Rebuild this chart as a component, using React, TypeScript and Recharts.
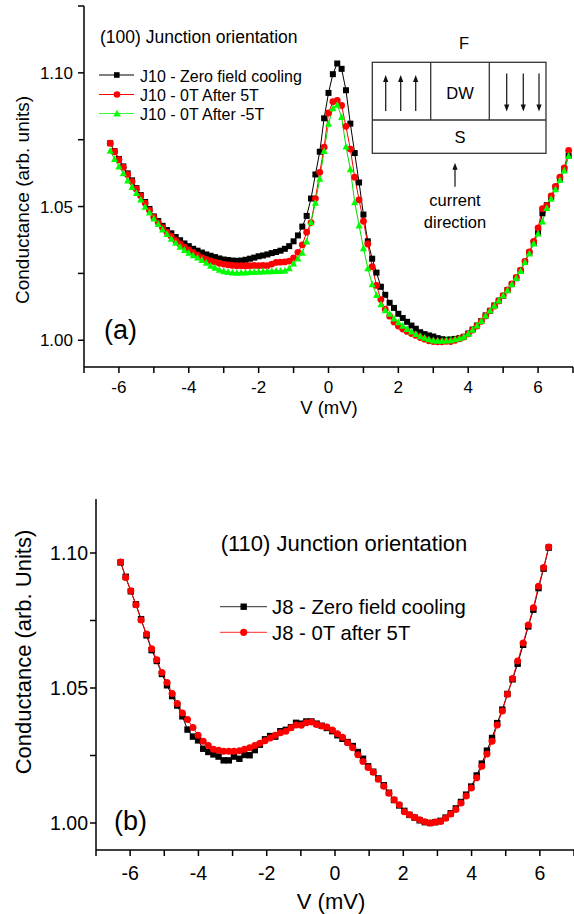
import React from "react";
import { LineChart, Line, XAxis, YAxis } from "recharts";

const FONT = '"Liberation Sans", Arial, Helvetica, sans-serif';

// ---- panel (a): (100) junction, bias in mV ----
const vTop = [
  -6.25, -6.125, -6, -5.875, -5.75, -5.625, -5.5, -5.375,
  -5.25, -5.125, -5, -4.875, -4.75, -4.625, -4.5, -4.375,
  -4.25, -4.125, -4, -3.875, -3.75, -3.625, -3.5, -3.375,
  -3.25, -3.125, -3, -2.875, -2.75, -2.625, -2.5, -2.375,
  -2.25, -2.125, -2, -1.875, -1.75, -1.625, -1.5, -1.375,
  -1.25, -1.125, -1, -0.875, -0.75, -0.625, -0.5, -0.375,
  -0.25, -0.125, 0, 0.125, 0.25, 0.375, 0.5, 0.625,
  0.75, 0.875, 1, 1.125, 1.25, 1.375, 1.5, 1.625,
  1.75, 1.875, 2, 2.125, 2.25, 2.375, 2.5, 2.625,
  2.75, 2.875, 3, 3.125, 3.25, 3.375, 3.5, 3.625,
  3.75, 3.875, 4, 4.125, 4.25, 4.375, 4.5, 4.625,
  4.75, 4.875, 5, 5.125, 5.25, 5.375, 5.5, 5.625,
  5.75, 5.875, 6, 6.125, 6.25, 6.375, 6.5, 6.625,
  6.75, 6.875,
];

const zfcTop = [
  1.0737, 1.0707, 1.0678, 1.065, 1.0624, 1.0598, 1.0569, 1.0543,
  1.0517, 1.0491, 1.0463, 1.0446, 1.0428, 1.0412, 1.04, 1.0386,
  1.0374, 1.0362, 1.0352, 1.0342, 1.0335, 1.0328, 1.0321, 1.0316,
  1.0311, 1.0306, 1.0302, 1.03, 1.0298, 1.0297, 1.0298, 1.0301,
  1.0305, 1.0309, 1.0314, 1.0317, 1.0321, 1.0326, 1.033, 1.0335,
  1.0342, 1.0352, 1.037, 1.0392, 1.0425, 1.0465, 1.053, 1.062,
  1.0705, 1.083, 1.0925, 1.0995, 1.1035, 1.1015, 1.0935, 1.081,
  1.07, 1.059, 1.047, 1.037, 1.0305, 1.0253, 1.02, 1.017,
  1.014, 1.0121, 1.0099, 1.0083, 1.0069, 1.0055, 1.0043, 1.003,
  1.0023, 1.0018, 1.0014, 1.0008, 1.0004, 1.0002, 1.0003, 1.0005,
  1.0008, 1.0013, 1.0025, 1.004, 1.0055, 1.0072, 1.0093, 1.011,
  1.013, 1.0148, 1.0166, 1.0188, 1.021, 1.0232, 1.026, 1.0293,
  1.0327, 1.0365, 1.0405, 1.0475, 1.0505, 1.0535, 1.0572, 1.0605,
  1.064, 1.069,
];

const after5Top = [
  1.0737, 1.0705, 1.0675, 1.0647, 1.062, 1.0594, 1.0566, 1.054,
  1.0513, 1.0486, 1.046, 1.044, 1.0421, 1.0404, 1.0388, 1.0373,
  1.036, 1.0348, 1.0338, 1.0329, 1.0318, 1.0309, 1.0302, 1.0297,
  1.0292, 1.0288, 1.0285, 1.0282, 1.028, 1.0279, 1.0279, 1.0278,
  1.0279, 1.028, 1.0279, 1.028, 1.0279, 1.0285, 1.0291, 1.0292,
  1.0293, 1.0296, 1.0308, 1.0329, 1.0357, 1.0404, 1.044, 1.053,
  1.0628, 1.0722, 1.085, 1.0892, 1.0897, 1.0878, 1.08, 1.0715,
  1.061, 1.0525, 1.0445, 1.036, 1.0275, 1.0205, 1.0152, 1.0116,
  1.009, 1.0068, 1.0053, 1.0042, 1.0033, 1.0025, 1.0018, 1.001,
  1.0004, 0.9998, 0.9995, 0.9994, 0.9994, 0.9996, 0.9995, 1.0,
  1.0006, 1.0012, 1.0024, 1.0038, 1.0053, 1.0071, 1.0091, 1.011,
  1.0128, 1.0147, 1.0167, 1.0188, 1.0211, 1.0235, 1.0262, 1.0295,
  1.033, 1.037, 1.042, 1.0492, 1.0503, 1.054, 1.0575, 1.061,
  1.0645, 1.071,
];

const afterM5Top = [
  1.0709, 1.0678, 1.065, 1.0625, 1.0598, 1.0574, 1.0551, 1.0527,
  1.05, 1.0478, 1.0456, 1.0435, 1.0415, 1.0398, 1.038, 1.0365,
  1.035, 1.0338, 1.0328, 1.0318, 1.031, 1.0301, 1.029, 1.0279,
  1.0272, 1.0264, 1.0259, 1.0256, 1.0254, 1.0253, 1.0254, 1.0254,
  1.0256, 1.0256, 1.0257, 1.0258, 1.0259, 1.0259, 1.026, 1.026,
  1.0261, 1.027, 1.0288, 1.0306, 1.0328, 1.037, 1.0442, 1.0515,
  1.0605, 1.0708, 1.081, 1.0868, 1.0881, 1.0835, 1.0725, 1.064,
  1.0517, 1.043, 1.0345, 1.027, 1.021, 1.017, 1.0135, 1.0113,
  1.01, 1.0082, 1.0068, 1.0055, 1.0043, 1.0033, 1.0024, 1.0016,
  1.001, 1.0004, 1.0, 0.9999, 0.9999, 1.0, 1.0001, 1.0004,
  1.0008, 1.0014, 1.0025, 1.004, 1.0056, 1.0073, 1.0093, 1.0112,
  1.013, 1.0149, 1.0168, 1.0188, 1.021, 1.0233, 1.026, 1.0292,
  1.0325, 1.0362, 1.04, 1.0445, 1.0495, 1.053, 1.0565, 1.06,
  1.0635, 1.069,
];

// ---- panel (b): (110) junction ----
const vBot = [
  -6.28, -6.13, -5.98, -5.83, -5.68, -5.52, -5.37, -5.22, -5.07, -4.92,
  -4.77, -4.62, -4.47, -4.32, -4.16, -4.01, -3.86, -3.71, -3.56, -3.41,
  -3.26, -3.11, -2.96, -2.8, -2.65, -2.5, -2.35, -2.2, -2.05, -1.9,
  -1.75, -1.6, -1.44, -1.29, -1.14, -0.99, -0.84, -0.69, -0.54, -0.39,
  -0.24, -0.08, 0.07, 0.22, 0.37, 0.52, 0.67, 0.82, 0.97, 1.12,
  1.27, 1.43, 1.58, 1.73, 1.88, 2.03, 2.18, 2.33, 2.48, 2.63,
  2.79, 2.94, 3.09, 3.24, 3.39, 3.54, 3.69, 3.84, 3.99, 4.15,
  4.3, 4.45, 4.6, 4.75, 4.9, 5.05, 5.2, 5.35, 5.51, 5.66,
  5.81, 5.96, 6.11, 6.26,
];

const zfcBot = [
  1.0965, 1.0912, 1.0858, 1.081, 1.0755, 1.0695, 1.064, 1.06, 1.0552, 1.051,
  1.047, 1.0435, 1.0395, 1.0346, 1.032, 1.0306, 1.0275, 1.0263, 1.0254, 1.0246,
  1.0232, 1.0232, 1.0246, 1.0238, 1.0252, 1.0251, 1.027, 1.029, 1.031, 1.0322,
  1.032, 1.034, 1.0345, 1.0355, 1.0371, 1.0368, 1.0376, 1.0376, 1.0368, 1.036,
  1.0352, 1.034, 1.0325, 1.0312, 1.03, 1.0285, 1.0263, 1.0238, 1.021, 1.019,
  1.0165, 1.014, 1.0112, 1.0085, 1.0065, 1.0045, 1.003, 1.002, 1.001, 1.0003,
  1.0, 1.0003, 1.0008, 1.002, 1.0036, 1.0054, 1.0078, 1.0105, 1.0135, 1.0176,
  1.022, 1.0268, 1.0315, 1.037, 1.042, 1.0478, 1.0532, 1.059, 1.066, 1.0728,
  1.079, 1.087, 1.0942, 1.102,
];

const after5Bot = [
  1.0967, 1.0909, 1.086, 1.0808, 1.0752, 1.07, 1.0645, 1.0605, 1.0557, 1.052,
  1.048, 1.0443, 1.0407, 1.0383, 1.0354, 1.0325, 1.0303, 1.0287, 1.0273, 1.0269,
  1.0266, 1.0266, 1.0266, 1.0268, 1.0273, 1.0279, 1.0287, 1.0295, 1.0305, 1.0315,
  1.0325, 1.0334, 1.034, 1.0353, 1.0363, 1.0362, 1.0371, 1.0374, 1.0365, 1.0359,
  1.0356, 1.0344, 1.0331, 1.0318, 1.0297, 1.0279, 1.0253, 1.0228, 1.0206, 1.0188,
  1.0162, 1.0136, 1.011, 1.0086, 1.0068, 1.0042, 1.0031, 1.0021, 1.0012, 1.0005,
  1.0, 1.0004, 1.0006, 1.0018, 1.0033, 1.005, 1.0074, 1.01, 1.013, 1.0168,
  1.021, 1.0256, 1.0303, 1.0363, 1.0415, 1.0477, 1.0535, 1.06, 1.0667, 1.0733,
  1.0797, 1.0877, 1.0946, 1.1022,
];

const xTicks = [-7, -6, -5, -4, -3, -2, -1, 0, 1, 2, 3, 4, 5, 6, 7];
const yTicksTop = [1.0, 1.025, 1.05, 1.075, 1.1, 1.125];
const yTicksBot = [1.0, 1.025, 1.05, 1.075, 1.1];

const topRows = vTop.map((v, i) => ({
  v,
  zfc: zfcTop[i],
  after5: after5Top[i],
  afterM5: afterM5Top[i],
}));
const botRows = vBot.map((v, i) => ({ v, zfc: zfcBot[i], after5: after5Bot[i] }));

const xFmt = (v: number) => (v % 2 === 0 ? String(v) : "");
const yFmt = (v: number) => {
  const k = Math.round(v * 1000);
  return k === 1000 || k === 1050 || k === 1100 ? v.toFixed(2) : "";
};

// marker renderers
const squareDot = (color: string, s: number) => (p: any) => {
  if (p.cx == null || p.cy == null) return <g key={p.index} />;
  return <rect key={p.index} x={p.cx - s / 2} y={p.cy - s / 2} width={s} height={s} fill={color} />;
};
const circleDot = (color: string, r: number) => (p: any) => {
  if (p.cx == null || p.cy == null) return <g key={p.index} />;
  return <circle key={p.index} cx={p.cx} cy={p.cy} r={r} fill={color} />;
};
const triDot = (color: string, s: number) => (p: any) => {
  if (p.cx == null || p.cy == null) return <g key={p.index} />;
  const h = s * 0.9;
  return (
    <polygon
      key={p.index}
      points={`${p.cx},${p.cy - h / 2 - 0.5} ${p.cx - s / 2},${p.cy + h / 2} ${p.cx + s / 2},${p.cy + h / 2}`}
      fill={color}
    />
  );
};

const axisStroke = { stroke: "#000", strokeWidth: 1.5 };

function Arrow({ x, y1, y2 }: { x: number; y1: number; y2: number }) {
  // y1 = tail, y2 = tip
  const dir = y2 < y1 ? 1 : -1;
  return (
    <g>
      <line x1={x} y1={y1} x2={x} y2={y2 + dir * 5} stroke="#222" strokeWidth={1.3} />
      <polygon points={`${x},${y2} ${x - 2.6},${y2 + dir * 7} ${x + 2.6},${y2 + dir * 7}`} fill="#111" />
    </g>
  );
}

function Overlay() {
  return (
    <svg
      width={574}
      height={914}
      style={{ position: "absolute", left: 0, top: 0, pointerEvents: "none" }}
      fontFamily={FONT}
    >
      {/* panel (a) texts */}
      <text x={29} y={200} fontSize={19} textAnchor="middle" transform="rotate(-90, 29, 200)">
        Conductance (arb. units)
      </text>
      <text x={329} y={414} fontSize={18.5} textAnchor="middle">
        V (mV)
      </text>
      <text x={100} y={42.5} fontSize={17.5}>
        (100) Junction orientation
      </text>
      <text x={104} y={339} fontSize={27}>
        (a)
      </text>

      {/* panel (a) legend */}
      <line x1={99} y1={75} x2={134} y2={75} stroke="#000" strokeWidth={1.2} />
      <rect x={114} y={72.2} width={5.6} height={5.6} fill="#000" />
      <text x={140} y={81.7} fontSize={16}>J10 - Zero field cooling</text>
      <line x1={99} y1={94.5} x2={134} y2={94.5} stroke="#ff0000" strokeWidth={1.2} />
      <circle cx={117} cy={94.5} r={3.3} fill="#ff0000" />
      <text x={140} y={101} fontSize={16}>J10 - 0T After 5T</text>
      <line x1={99} y1={113.5} x2={134} y2={113.5} stroke="#33ff33" strokeWidth={1.2} />
      <polygon points="117,109.8 113.2,116.5 120.8,116.5" fill="#00ff00" />
      <text x={140} y={119.5} fontSize={16}>J10 - 0T After -5T</text>

      {/* inset sketch */}
      <text x={464} y={48.5} fontSize={16.5} textAnchor="middle">F</text>
      <rect x={372.3} y={62.3} width={173.7} height={91} fill="none" stroke="#333" strokeWidth={1.3} />
      <line x1={372.3} y1={120} x2={546} y2={120} stroke="#333" strokeWidth={1.3} />
      <line x1={430.7} y1={62.3} x2={430.7} y2={120} stroke="#333" strokeWidth={1.3} />
      <line x1={489.3} y1={62.3} x2={489.3} y2={120} stroke="#333" strokeWidth={1.3} />
      <Arrow x={385.7} y1={111} y2={75} />
      <Arrow x={400.7} y1={111} y2={75} />
      <Arrow x={415.7} y1={111} y2={75} />
      <Arrow x={506.7} y1={73.5} y2={111.5} />
      <Arrow x={523.3} y1={73.5} y2={111.5} />
      <Arrow x={539} y1={73.5} y2={111.5} />
      <text x={460} y={98.7} fontSize={16.5} textAnchor="middle">DW</text>
      <text x={460} y={142.7} fontSize={16.5} textAnchor="middle">S</text>
      <Arrow x={455} y1={186.7} y2={162.7} />
      <text x={455} y={206} fontSize={16.5} textAnchor="middle">current</text>
      <text x={455} y={228} fontSize={16.5} textAnchor="middle">direction</text>

      {/* panel (b) texts */}
      <text x={30.5} y={652} fontSize={22} textAnchor="middle" transform="rotate(-90, 30.5, 652)">
        Conductance (arb. Units)
      </text>
      <text x={331} y={909} fontSize={22} textAnchor="middle">
        V (mV)
      </text>
      <text x={220.7} y={551} fontSize={22}>
        (110) Junction orientation
      </text>
      <text x={114} y={830} fontSize={27}>
        (b)
      </text>

      {/* panel (b) legend */}
      <line x1={220} y1={606.7} x2={267} y2={606.7} stroke="#555" strokeWidth={1.3} />
      <rect x={240.5} y={603.5} width={6.4} height={6.4} fill="#000" />
      <text x={272} y={614} fontSize={20.3}>J8 - Zero field cooling</text>
      <line x1={220} y1={632.3} x2={267} y2={632.3} stroke="#ff5555" strokeWidth={1.3} />
      <circle cx={243.7} cy={632.3} r={3.6} fill="#ff0000" />
      <text x={272} y={639.6} fontSize={20.3}>J8 - 0T after 5T</text>
    </svg>
  );
}

export default function App() {
  return (
    <div style={{ position: "absolute", left: 0, top: 0, width: 574, height: 914, background: "#fff" }}>
      <div style={{ position: "absolute", left: 0, top: 0 }}>
        <LineChart width={574} height={430} data={topRows} margin={{ top: 6, right: 1, bottom: 33, left: 0 }}>
          <XAxis
            dataKey="v"
            type="number"
            domain={[-7, 7]}
            ticks={xTicks}
            interval={0}
            tickFormatter={xFmt}
            height={30}
            axisLine={axisStroke}
            tickLine={axisStroke}
            tickSize={6}
            tickMargin={8}
            tick={{ fill: "#000", fontSize: 17, fontFamily: FONT }}
            allowDataOverflow
          />
          <YAxis
            type="number"
            domain={[0.99, 1.125]}
            ticks={yTicksTop}
            interval={0}
            tickFormatter={yFmt}
            width={84}
            axisLine={axisStroke}
            tickLine={axisStroke}
            tickSize={6}
            tickMargin={5}
            tick={{ fill: "#000", fontSize: 17, fontFamily: FONT }}
            allowDataOverflow
          />
          <Line
            dataKey="zfc"
            type="linear"
            stroke="#000"
            strokeWidth={1}
            dot={squareDot("#000", 6)}
            activeDot={false}
            isAnimationActive={false}
          />
          <Line
            dataKey="after5"
            type="linear"
            stroke="#ff0000"
            strokeWidth={1}
            dot={circleDot("#ff0000", 3.4)}
            activeDot={false}
            isAnimationActive={false}
          />
          <Line
            dataKey="afterM5"
            type="linear"
            stroke="#00dd00"
            strokeWidth={1}
            dot={triDot("#00ff00", 7)}
            activeDot={false}
            isAnimationActive={false}
          />
        </LineChart>
      </div>
      <div style={{ position: "absolute", left: 0, top: 470 }}>
        <LineChart width={574} height={444} data={botRows} margin={{ top: 29, right: 0, bottom: 34, left: 0 }}>
          <XAxis
            dataKey="v"
            type="number"
            domain={[-7, 7]}
            ticks={xTicks}
            interval={0}
            tickFormatter={xFmt}
            height={30}
            axisLine={axisStroke}
            tickLine={axisStroke}
            tickSize={6}
            tickMargin={10}
            tick={{ fill: "#000", fontSize: 19.5, fontFamily: FONT }}
            allowDataOverflow
          />
          <YAxis
            type="number"
            domain={[0.99, 1.12]}
            ticks={yTicksBot}
            interval={0}
            tickFormatter={yFmt}
            width={96}
            axisLine={axisStroke}
            tickLine={axisStroke}
            tickSize={6}
            tickMargin={2}
            tick={{ fill: "#000", fontSize: 19.5, fontFamily: FONT }}
            allowDataOverflow
          />
          <Line
            dataKey="zfc"
            type="linear"
            stroke="#000"
            strokeWidth={1}
            dot={squareDot("#000", 6.4)}
            activeDot={false}
            isAnimationActive={false}
          />
          <Line
            dataKey="after5"
            type="linear"
            stroke="#ff0000"
            strokeWidth={1}
            dot={circleDot("#ff0000", 3.5)}
            activeDot={false}
            isAnimationActive={false}
          />
        </LineChart>
      </div>
      <Overlay />
    </div>
  );
}
